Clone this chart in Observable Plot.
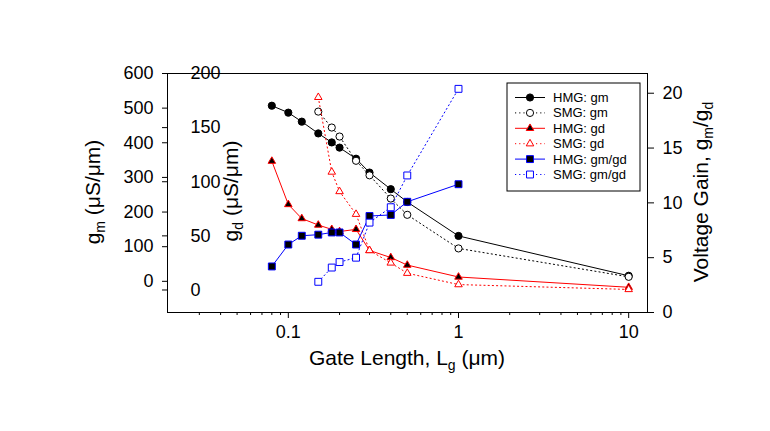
<!DOCTYPE html>
<html>
<head>
<meta charset="utf-8">
<script src="https://cdn.jsdelivr.net/npm/d3@7"></script>
<script src="https://cdn.jsdelivr.net/npm/@observablehq/plot@0.6"></script>
<style>
  html, body { margin: 0; padding: 0; background: #fff; }
  #chart { width: 770px; height: 431px; }
</style>
</head>
<body>
<div id="chart"></div>
<script>
// ---- Data ----
const lgHMG = [0.08, 0.1, 0.12, 0.15, 0.18, 0.2, 0.25, 0.3, 0.4, 0.5, 1, 10];
const gmHMG = [507, 487, 461, 427, 401, 386, 354, 314, 266, 229, 131, 16];
const gdHMG = [119, 79, 66, 60, 56, 54, 56, 36.5, 30, 23, 12, 2.5];
const lgHMGgain = [0.08, 0.1, 0.12, 0.15, 0.18, 0.2, 0.25, 0.3, 0.4, 0.5, 1];
const gainHMG = [4.2, 6.2, 7.0, 7.1, 7.3, 7.3, 6.2, 8.8, 8.9, 10.1, 11.7];

const lgSMG = [0.15, 0.18, 0.2, 0.25, 0.3, 0.4, 0.5, 1, 10];
const gmSMG = [490, 444, 418, 348, 306, 239, 192, 95, 13];
const gdSMG = [178, 109, 91, 70, 36.5, 25, 15.5, 5, 0.5];
const lgSMGgain = [0.15, 0.18, 0.2, 0.25, 0.3, 0.4, 0.5, 1];
const gainSMG = [2.8, 4.1, 4.6, 5.0, 8.2, 9.6, 12.5, 20.4];

// axis domains and ticks
const xDomain = [0.0195, 12.9];
const xTicks = [0.1, 1, 10];
const xMinor = [0.03, 0.04, 0.05, 0.06, 0.07, 0.08, 0.09,
                0.2, 0.3, 0.4, 0.5, 0.6, 0.7, 0.8, 0.9,
                2, 3, 4, 5, 6, 7, 8, 9];
const gmDomain = [-90, 600];
const gmTicks = [0, 100, 200, 300, 400, 500, 600];
const gdDomain = [-20.8, 200];
const gdTicks = [0, 50, 100, 150, 200];
const gainDomain = [0, 21.8];
const gainTicks = [0, 5, 10, 15, 20];

const legendLabels = ["HMG: gm", "SMG: gm", "HMG: gd", "SMG: gd", "HMG: gm/gd", "SMG: gm/gd"];

// map a value from a secondary axis domain onto the primary (gm) y scale
const toY = (v, dom) => gmDomain[0] + (v - dom[0]) / (dom[1] - dom[0]) * (gmDomain[1] - gmDomain[0]);
const fromY = (t, dom) => dom[0] + (t - gmDomain[0]) / (gmDomain[1] - gmDomain[0]) * (dom[1] - dom[0]);

const rows = (xs, ys, dom) => xs.map((x, i) => ({x, y: toY(ys[i], dom)}));

const series = [
  {data: rows(lgHMG, gmHMG, gmDomain), color: "black", dash: null, symbol: "circle", r: 3.6, fill: "black"},
  {data: rows(lgSMG, gmSMG, gmDomain), color: "black", dash: "1.2,3", symbol: "circle", r: 3.6, fill: "white"},
  {data: rows(lgHMG, gdHMG, gdDomain), color: "#ff0000", dash: null, symbol: "triangle", r: 2.8, fill: "black"},
  {data: rows(lgSMG, gdSMG, gdDomain), color: "#ff0000", dash: "1.2,3", symbol: "triangle", r: 2.8, fill: "white"},
  {data: rows(lgHMGgain, gainHMG, gainDomain), color: "#0000ff", dash: null, symbol: "square", r: 3.9, fill: "black"},
  {data: rows(lgSMGgain, gainSMG, gainDomain), color: "#0000ff", dash: "1.2,3", symbol: "square", r: 3.9, fill: "white"}
];

const marks = [];
for (const s of series) {
  marks.push(Plot.line(s.data, {x: "x", y: "y", stroke: s.color, strokeWidth: 1, strokeDasharray: s.dash}));
  marks.push(Plot.dot(s.data, {x: "x", y: "y", symbol: s.symbol, r: s.r, fill: s.fill, stroke: s.color, strokeWidth: 1}));
}

const svg = Plot.plot({
  width: 770,
  height: 431,
  marginLeft: 167,
  marginRight: 123,
  marginTop: 73,
  marginBottom: 119,
  style: {fontFamily: "'Liberation Sans', Arial, sans-serif", fontSize: "18px", background: "white", color: "black"},
  x: {type: "log", domain: xDomain},
  y: {domain: gmDomain},
  marks: [
    Plot.frame({stroke: "black"}),
    Plot.axisX({ticks: xTicks, tickFormat: d => String(d), tickSize: 6, tickPadding: 7, label: null}),
    Plot.axisX({ticks: xMinor, tickFormat: () => "", tickSize: 3, label: null}),
    Plot.axisY({anchor: "left", ticks: gmTicks, tickSize: 5, tickPadding: 9, label: null}),
    Plot.axisY({anchor: "left", ticks: gdTicks.map(v => toY(v, gdDomain)), tickFormat: () => "", tickSize: 5, label: null}),
    Plot.text(gdTicks, {y: d => toY(d, gdDomain), text: d => String(d), frameAnchor: "left", dx: 23, textAnchor: "start", fontSize: 18}),
    Plot.axisY({anchor: "right", ticks: gainTicks.map(v => toY(v, gainDomain)),
      tickFormat: t => String(Math.round(fromY(t, gainDomain))), tickSize: 6, tickPadding: 9, label: null}),
    ...marks
  ]
});

document.getElementById("chart").appendChild(svg);

// ---- Axis titles with subscripts ----
const root = d3.select(svg);
const font = "'Liberation Sans', Arial, sans-serif";
function title(x, y, rotate, parts) {
  const t = root.append("text")
    .attr("transform", `translate(${x},${y})` + (rotate ? " rotate(-90)" : ""))
    .attr("text-anchor", "middle")
    .style("font-family", font)
    .style("font-size", "21px")
    .attr("fill", "black");
  let shifted = false;
  for (const [txt, sub] of parts) {
    const sp = t.append("tspan").text(txt);
    if (sub && !shifted) { sp.attr("dy", 5).style("font-size", "14px"); shifted = true; }
    else if (!sub && shifted) { sp.attr("dy", -5); shifted = false; }
  }
}
title(100, 192, true, [["g", false], ["m", true], [" (μS/μm)", false]]);
title(238, 191, true, [["g", false], ["d", true], [" (μS/μm)", false]]);
title(708, 192, true, [["Voltage Gain, g", false], ["m", true], ["/g", false], ["d", true]]);
title(407, 365, false, [["Gate Length, L", false], ["g", true], [" (μm)", false]]);

// ---- Legend ----
const lg = root.append("g");
lg.append("rect").attr("x", 507).attr("y", 83).attr("width", 133).attr("height", 108)
  .attr("fill", "white").attr("stroke", "black");
const symMap = {circle: d3.symbolCircle, triangle: d3.symbolTriangle, square: d3.symbolSquare};
series.forEach((s, i) => {
  const y = 97.5 + i * 15.4;
  lg.append("line").attr("x1", 515).attr("x2", 545).attr("y1", y).attr("y2", y)
    .attr("stroke", s.color).attr("stroke-width", 1).attr("stroke-dasharray", s.dash);
  lg.append("path").attr("transform", `translate(530,${y})`)
    .attr("d", d3.symbol(symMap[s.symbol], s.r * s.r * Math.PI)())
    .attr("fill", s.fill).attr("stroke", s.color);
  lg.append("text").attr("x", 553).attr("y", y).attr("dy", "0.35em")
    .attr("text-anchor", "start")
    .style("font-family", font).style("font-size", "13px").attr("fill", "black")
    .text(legendLabels[i]);
});
</script>
</body>
</html>
